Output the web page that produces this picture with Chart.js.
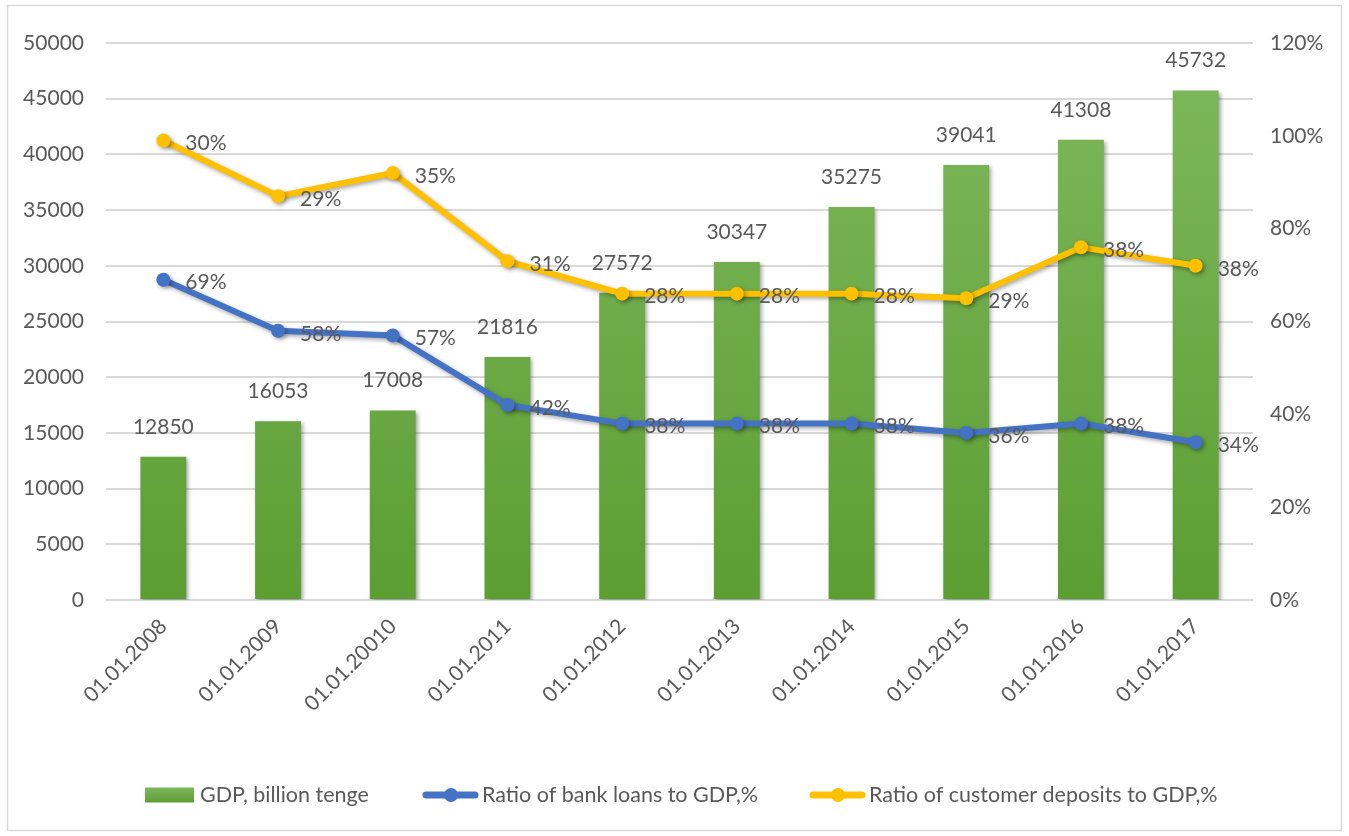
<!DOCTYPE html>
<html>
<head>
<meta charset="utf-8">
<script src="https://cdn.jsdelivr.net/npm/chart.js@4"></script>
<style>
html,body{margin:0;padding:0;background:#fff;}
#wrap{position:absolute;left:0;top:0;width:1349px;height:836px;}
</style>
</head>
<body>
<div id="wrap"><canvas id="c" width="1349" height="836"></canvas></div>
<script>
const categories = ['01.01.2008','01.01.2009','01.01.20010','01.01.2011','01.01.2012','01.01.2013','01.01.2014','01.01.2015','01.01.2016','01.01.2017'];
const gdp = [12850,16053,17008,21816,27572,30347,35275,39041,41308,45732];
const loans = [69,58,57,42,38,38,38,36,38,34];
const deposits = [30,29,35,31,28,28,28,29,38,38];
const leftTicks = [0,5000,10000,15000,20000,25000,30000,35000,40000,45000,50000];
const rightTicks = [0,20,40,60,80,100,120];

const FONT = 'Lato, "Liberation Sans", sans-serif';
const TXT = '#595959';
const GREEN_TOP = '#7fb85e', GREEN_BOT = '#5c9e32';
const BLUE = '#4472c4', YELLOW = '#ffc000';

function barGradient(ctx){
  const ch = ctx.chart; const a = ch.chartArea;
  if(!a) return GREEN_BOT;
  const g = ch.ctx.createLinearGradient(0, a.top, 0, a.bottom);
  g.addColorStop(0, GREEN_TOP); g.addColorStop(1, GREEN_BOT);
  return g;
}

const shadowPlugin = {
  id:'shadow',
  beforeDatasetDraw(chart, args){
    const c = chart.ctx; c.save();
    c.shadowColor = 'rgba(0,0,0,0.35)';
    c.shadowBlur = 4; c.shadowOffsetX = 2; c.shadowOffsetY = 2;
  },
  afterDatasetDraw(chart){ chart.ctx.restore(); }
};

const framePlugin = {
  id:'frame',
  beforeDraw(chart){
    const c = chart.ctx; c.save();
    c.fillStyle = '#fff'; c.fillRect(0,0,chart.width,chart.height);
    c.strokeStyle = '#d9d9d9'; c.lineWidth = 1.5;
    c.strokeRect(7.5,5.5,1334,825);
    c.restore();
  }
};

const labelPlugin = {
  id:'labels',
  afterDatasetsDraw(chart){
    const c = chart.ctx; c.save();
    c.font = '21px ' + FONT; c.fillStyle = TXT;
    const bm = chart.getDatasetMeta(0);
    c.textAlign = 'center'; c.textBaseline = 'middle';
    bm.data.forEach((el,i)=>{ c.fillText(String(gdp[i]), el.x, el.y - 30); });
    c.textAlign = 'left';
    [[1,loans],[2,deposits]].forEach(([di,arr])=>{
      const m = chart.getDatasetMeta(di);
      m.data.forEach((el,i)=>{ c.fillText(arr[i] + '%', el.x + 22, el.y + 3); });
    });
    c.restore();
  }
};

const legendPlugin = {
  id:'customLegend',
  afterDraw(chart){
    const c = chart.ctx; c.save();
    const y = 795;
    c.font = '21.5px ' + FONT; c.fillStyle = TXT; c.textBaseline = 'middle'; c.textAlign = 'left';
    const g = c.createLinearGradient(0, y-8, 0, y+8);
    g.addColorStop(0, GREEN_TOP); g.addColorStop(1, GREEN_BOT);
    c.fillStyle = g; c.fillRect(145, y-7.5, 49, 15);
    c.fillStyle = TXT; c.fillText(chart.data.datasets[0].label, 200, y);
    const items = [[423, BLUE, chart.data.datasets[1].label],[810, YELLOW, chart.data.datasets[2].label]];
    items.forEach(([x,col,lab])=>{
      c.strokeStyle = col; c.lineWidth = 7; c.lineCap = 'round';
      c.beginPath(); c.moveTo(x+3,y); c.lineTo(x+52,y); c.stroke();
      c.fillStyle = col; c.beginPath(); c.arc(x+28,y,7,0,Math.PI*2); c.fill();
      c.fillStyle = TXT; c.fillText(lab, x+59, y);
    });
    c.restore();
  }
};

new Chart(document.getElementById('c'), {
  data:{
    labels: categories,
    datasets:[
      {type:'bar', label:'GDP, billion tenge', data:gdp, yAxisID:'y', backgroundColor:barGradient, barPercentage:0.4, categoryPercentage:1, order:3},
      {type:'line', label:'Ratio of bank loans to GDP,%', data:loans, yAxisID:'y1', borderColor:BLUE, backgroundColor:BLUE, borderWidth:6, pointRadius:7, pointBackgroundColor:BLUE, pointBorderWidth:0, tension:0, order:1},
      {type:'line', label:'Ratio of customer deposits to GDP,%', data:deposits, yAxisID:'y1', borderColor:YELLOW, backgroundColor:YELLOW, borderWidth:6, pointRadius:7, pointBackgroundColor:YELLOW, pointBorderWidth:0, tension:0, order:2}
    ]
  },
  options:{
    responsive:false, animation:false,
    layout:{padding:{top:43, bottom:0, left:0, right:0}},
    plugins:{legend:{display:false}, tooltip:{enabled:false}},
    scales:{
      x:{
        grid:{display:false}, border:{display:false},
        ticks:{color:TXT, font:{family:FONT, size:21}, maxRotation:45, minRotation:45, autoSkip:false, padding:6},
        afterFit(s){ s.height = 236; }
      },
      y:{
        position:'left', min:0, max:50000,
        afterBuildTicks(s){ s.ticks = leftTicks.map(v=>({value:v})); },
        grid:{color:'#d9d9d9', lineWidth:2, drawTicks:false},
        border:{display:false},
        ticks:{color:TXT, font:{family:FONT, size:21}, padding:22, callback:v=>String(v)},
        afterFit(s){ s.width = 106; }
      },
      y1:{
        position:'right', min:0, max:120, stacked:true,
        afterBuildTicks(s){ s.ticks = rightTicks.map(v=>({value:v})); },
        grid:{display:false, drawTicks:false}, border:{display:false},
        ticks:{color:TXT, font:{family:FONT, size:21}, padding:17, callback:v=>v+'%'},
        afterFit(s){ s.width = 96; }
      }
    }
  },
  plugins:[framePlugin, shadowPlugin, labelPlugin, legendPlugin]
});
</script>
</body>
</html>
